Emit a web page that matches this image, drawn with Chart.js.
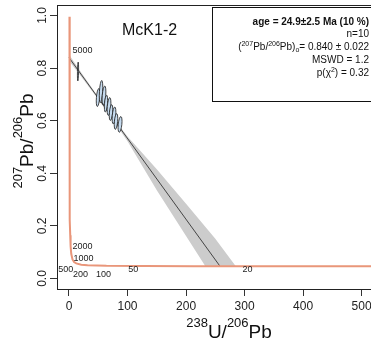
<!DOCTYPE html>
<html>
<head>
<meta charset="utf-8">
<script src="https://cdn.jsdelivr.net/npm/chart.js@4"></script>
<style>
  html, body { margin: 0; padding: 0; background: #fff; }
  canvas { display: block; }
</style>
</head>
<body>
<canvas id="tw" width="371" height="349"></canvas>
<script>
// axis ticks
const xTicks = [0, 100, 200, 300, 400, 500];
const yTicks = [0.0, 0.2, 0.4, 0.6, 0.8, 1.0];

// concordia curve (238U/206Pb, 207Pb/206Pb)
const concX = [0.80, 0.85, 0.93, 1.16, 1.39, 1.69, 2.11, 2.75, 3.82, 5.96, 8.72, 12.4, 21.0, 31.7, 64.0, 128.4, 214, 322, 429, 537];
const concY = [0.995, 0.846, 0.686, 0.425, 0.306, 0.223, 0.164, 0.123, 0.094, 0.0725, 0.0628, 0.0572, 0.0524, 0.0501, 0.0480, 0.0470, 0.0466, 0.0465, 0.0464, 0.0463];

// age labels on the concordia (Ma)
const ageLabels = ['5000', '2000', '1000', '500', '200', '100', '50', '20'];
const ageX = [0.85, 2.75, 5.96, 12.4, 31.7, 64.0, 128.4, 322];
const ageY = [0.846, 0.123, 0.0725, 0.0572, 0.0501, 0.0480, 0.0470, 0.0465];

// discordia line
const discX = [0, 258];
const discY = [0.840, 0.0466];

// error envelope around the discordia (closed outline)
const bandX = [0, 20, 45, 70, 100, 150, 200, 250, 285, 233, 200, 150, 100, 70, 45, 20, 0];
const bandY = [0.852, 0.786, 0.706, 0.628, 0.540, 0.415, 0.284, 0.151, 0.0466, 0.0467, 0.162, 0.336, 0.522, 0.618, 0.6955, 0.770, 0.828];

// error ellipses of the 10 analyses
const ellX   = [15.4, 49.6, 54.7, 59.8, 63.2, 68.4, 71.8, 76.9, 80.3, 87.2];
const ellY   = [0.787, 0.688, 0.711, 0.696, 0.665, 0.654, 0.631, 0.620, 0.597, 0.586];
const ellSX  = [1.0, 3.0, 3.0, 3.2, 2.8, 3.2, 3.0, 3.2, 3.0, 3.4];
const ellSY  = [0.036, 0.034, 0.042, 0.036, 0.032, 0.034, 0.030, 0.032, 0.030, 0.030];
const ellRho = [0.3, 0.4, 0.4, 0.4, 0.4, 0.4, 0.4, 0.4, 0.4, 0.4];

// fit results
const sampleName = 'McK1-2';
const age = 24.9, ageErr = 2.5, ageRel = 10;
const nAnalyses = 10;
const pb0 = 0.840, pb0Err = 0.022;
const mswd = 1.2, pChi = 0.32;

const FONT = '"Liberation Sans", Arial, Helvetica, sans-serif';
const labelOffsets = [[3, -5, 'left'], [2, 0, 'left'], [1, -1, 'left'], [-3, 6, 'right'], [-7, 9, 'center'], [-3, 9, 'center'], [-11, 3, 'center'], [-10, 3, 'center']];

const pts = (xs, ys) => xs.map((x, i) => ({x: x, y: ys[i]}));

function rich(ctx, parts, x, y, align) {
  let w = 0;
  parts.forEach(p => { ctx.font = (p[3] || '') + ' ' + p[1] + 'px ' + FONT; w += ctx.measureText(p[0]).width; });
  let cx = align === 'right' ? x - w : align === 'center' ? x - w / 2 : x;
  ctx.textAlign = 'left';
  ctx.textBaseline = 'alphabetic';
  parts.forEach(p => {
    ctx.font = (p[3] || '') + ' ' + p[1] + 'px ' + FONT;
    ctx.fillText(p[0], cx, y + (p[2] || 0));
    cx += ctx.measureText(p[0]).width;
  });
}

// ellipses drawn through the scales
const ellipsePlugin = {
  id: 'ellipses',
  afterDatasetsDraw(chart) {
    const c = chart.ctx, xs = chart.scales.x, ys = chart.scales.y;
    const kx = xs.getPixelForValue(1) - xs.getPixelForValue(0);
    const ky = ys.getPixelForValue(1) - ys.getPixelForValue(0);
    c.save();
    c.fillStyle = '#c6dbef';
    c.strokeStyle = '#1a1a1a';
    c.lineWidth = 0.8;
    ellX.forEach((x, i) => {
      const sxx = Math.pow(ellSX[i] * kx, 2), syy = Math.pow(ellSY[i] * ky, 2);
      const sxy = ellRho[i] * ellSX[i] * ellSY[i] * kx * ky;
      const tr = sxx + syy, det = sxx * syy - sxy * sxy;
      const d = Math.sqrt(Math.max(tr * tr / 4 - det, 0));
      const a = Math.sqrt(tr / 2 + d), b = Math.sqrt(Math.max(tr / 2 - d, 0.01));
      const ang = 0.5 * Math.atan2(2 * sxy, sxx - syy);
      c.beginPath();
      c.ellipse(xs.getPixelForValue(x), ys.getPixelForValue(ellY[i]), a, b, ang, 0, 2 * Math.PI);
      c.fill();
      c.stroke();
    });
    c.restore();
  }
};

// texts, box, rotated y labels
const textPlugin = {
  id: 'texts',
  afterDraw(chart) {
    const c = chart.ctx, xs = chart.scales.x, ys = chart.scales.y, area = chart.chartArea;
    c.save();
    // top of the frame
    c.strokeStyle = '#222';
    c.lineWidth = 1;
    c.beginPath();
    c.moveTo(area.left, area.top + 0.5);
    c.lineTo(area.right + 5, area.top + 0.5);
    c.stroke();

    // y tick labels, rotated
    c.fillStyle = '#222';
    c.font = '12px ' + FONT;
    c.textAlign = 'center';
    c.textBaseline = 'alphabetic';
    yTicks.forEach(v => {
      c.save();
      c.translate(area.left - 11, ys.getPixelForValue(v));
      c.rotate(-Math.PI / 2);
      c.fillText(v.toFixed(1), 0, 0);
      c.restore();
    });

    // axis titles
    c.fillStyle = '#111';
    rich(c, [['238', 13, -11], ['U/', 19, 0], ['206', 13, -11], ['Pb', 19, 0]], 229, 338, 'center');
    c.save();
    c.translate(33, 141);
    c.rotate(-Math.PI / 2);
    rich(c, [['207', 13, -11], ['Pb/', 19, 0], ['206', 13, -11], ['Pb', 19, 0]], 0, 0, 'center');
    c.restore();

    // sample name
    c.font = '16px ' + FONT;
    c.textAlign = 'left';
    c.fillText(sampleName, 122, 35);

    // concordia age labels
    c.font = '9px ' + FONT;
    c.fillStyle = '#222';
    c.textBaseline = 'middle';
    ageLabels.forEach((t, i) => {
      const o = labelOffsets[i];
      c.textAlign = o[2];
      c.fillText(t, xs.getPixelForValue(ageX[i]) + o[0], ys.getPixelForValue(ageY[i]) + o[1]);
    });

    // results box
    c.fillStyle = '#fff';
    c.fillRect(212.5, 7.5, 200, 94);
    c.strokeStyle = '#111';
    c.strokeRect(212.5, 7.5, 200, 94);
    c.fillStyle = '#111';
    const r = 369;
    rich(c, [['age = ' + age.toFixed(1) + '\u00b1' + ageErr.toFixed(1) + ' Ma (' + ageRel + ' %)', 10, 0, 'bold']], r, 25, 'right');
    rich(c, [['n=' + nAnalyses, 10, 0]], r, 37, 'right');
    rich(c, [['(', 10, 0], ['207', 7, -4], ['Pb/', 10, 0], ['206', 7, -4], ['Pb)', 10, 0], ['o', 7, 2],
             ['= ' + pb0.toFixed(3) + ' \u00b1 ' + pb0Err.toFixed(3), 10, 0]], r, 50, 'right');
    rich(c, [['MSWD = ' + mswd.toFixed(1), 10, 0]], r, 63, 'right');
    rich(c, [['p(\u03c7', 10, 0], ['2', 7, -4], [') = ' + pChi.toFixed(2), 10, 0]], r, 76, 'right');
    c.restore();
  }
};

new Chart(document.getElementById('tw'), {
  type: 'scatter',
  data: {
    datasets: [
      { data: pts(concX, concY), showLine: true, borderColor: '#e9967a', borderWidth: 2, pointRadius: 0, order: 1 },
      { data: pts(discX, discY), showLine: true, borderColor: '#222', borderWidth: 0.8, pointRadius: 0, order: 2 },
      { data: pts(bandX, bandY), showLine: true, fill: 'shape', backgroundColor: '#cccccc', borderColor: '#cccccc', borderWidth: 0, pointRadius: 0, order: 3 }
    ]
  },
  options: {
    responsive: false,
    animation: false,
    events: [],
    layout: { autoPadding: false, padding: { top: 5, right: 0, left: 0, bottom: 0 } },
    plugins: { legend: { display: false }, tooltip: { enabled: false } },
    scales: {
      x: {
        type: 'linear', min: -20.5, max: 516,
        afterBuildTicks: s => { s.ticks = xTicks.map(v => ({ value: v })); },
        afterFit: s => { s.height = 60; s.paddingLeft = 0; s.paddingRight = 0; },
        grid: { drawOnChartArea: false, drawTicks: true, tickLength: 7, color: '#333' },
        border: { display: true, color: '#222', width: 1 },
        ticks: { color: '#222', padding: 3, maxRotation: 0, font: { size: 12, family: FONT } }
      },
      y: {
        type: 'linear', min: -0.04, max: 1.04,
        afterBuildTicks: s => { s.ticks = yTicks.map(v => ({ value: v })); },
        afterFit: s => { s.width = 57; s.paddingTop = 0; s.paddingBottom = 0; },
        grid: { drawOnChartArea: false, drawTicks: true, tickLength: 7, color: '#333' },
        border: { display: true, color: '#222', width: 1 },
        ticks: { display: false }
      }
    }
  },
  plugins: [ellipsePlugin, textPlugin]
});
</script>
</body>
</html>
